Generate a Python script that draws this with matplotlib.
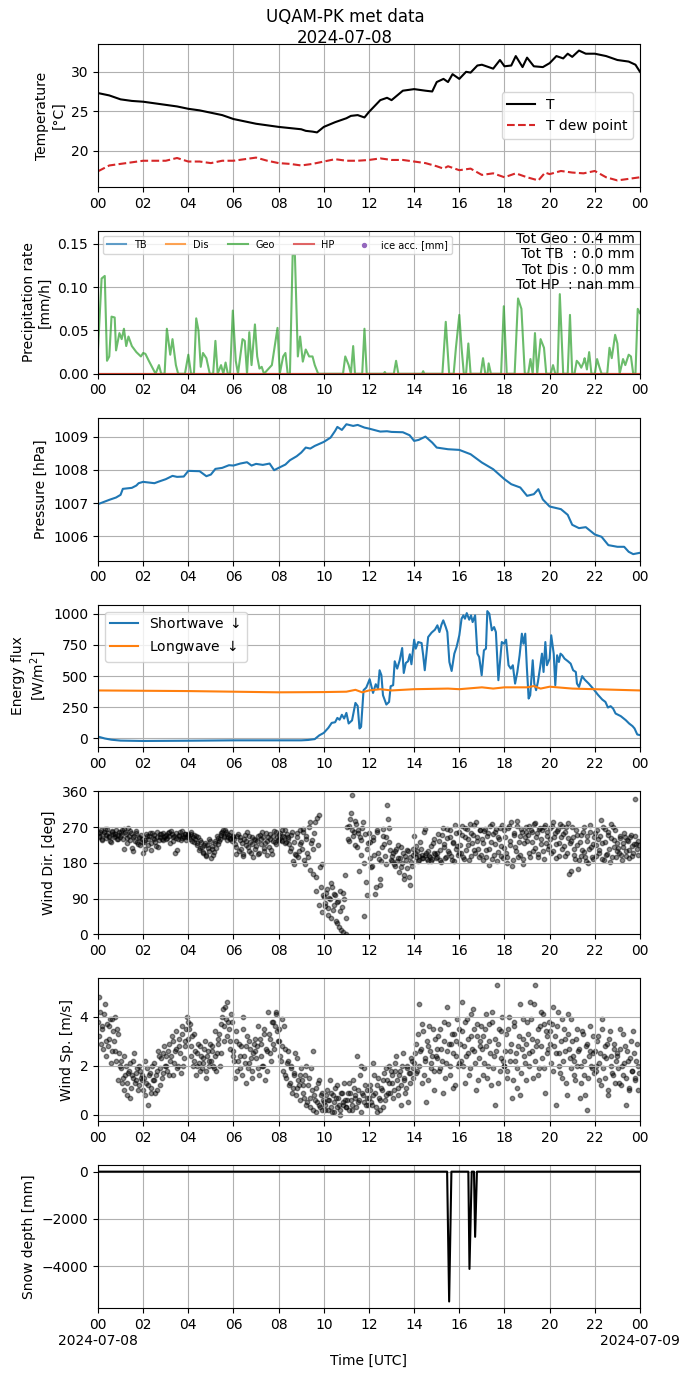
import numpy as np
import pandas as pd
import matplotlib
matplotlib.use('Agg')
import matplotlib.pyplot as plt
import matplotlib.dates as mdates
from matplotlib.ticker import FuncFormatter

day0 = pd.Timestamp('2024-07-08')

# --- temperature (hours, degC)
t_h = [0, 0.5, 1, 1.5, 2, 2.5, 3, 3.5, 4, 4.5, 5, 5.5, 6, 6.5, 7, 7.5, 8, 8.5, 9,
       9.2, 9.5, 9.7, 10, 10.5, 11, 11.2, 11.5, 11.8, 12, 12.5, 12.8, 13, 13.5,
       14, 14.5, 14.8, 15, 15.3, 15.5, 15.7, 16, 16.3, 16.5, 16.8, 17, 17.5, 17.8,
       18, 18.3, 18.5, 18.8, 19, 19.3, 19.7, 20, 20.3, 20.6, 20.8, 21, 21.3, 21.6,
       22, 22.5, 23, 23.5, 23.8, 24]
temp = [27.3, 27.0, 26.5, 26.3, 26.2, 26.0, 25.8, 25.6, 25.3, 25.1, 24.8, 24.5,
        24.0, 23.7, 23.4, 23.2, 23.0, 22.85, 22.7, 22.5, 22.4, 22.3, 23.0, 23.6,
        24.1, 24.4, 24.5, 24.2, 24.9, 26.4, 26.7, 26.4, 27.6, 27.8, 27.6, 27.5,
        28.7, 29.1, 28.7, 29.7, 29.1, 30.0, 29.9, 30.8, 30.9, 30.4, 31.5, 30.7,
        30.8, 32.0, 30.6, 31.8, 30.7, 30.6, 31.1, 32.0, 31.7, 32.3, 31.9, 32.7,
        32.3, 32.3, 32.0, 31.5, 31.3, 30.9, 30.0]
td_h = [0, 0.5, 1, 1.5, 2, 2.5, 3, 3.5, 4, 4.5, 5, 5.5, 6, 6.5, 7, 7.5, 8, 8.5, 9,
        9.5, 10, 10.5, 11, 11.5, 12, 12.5, 13, 13.5, 14, 14.5, 15, 15.3, 15.5, 16,
        16.5, 17, 17.5, 18, 18.5, 19, 19.5, 19.8, 20, 20.5, 21, 21.5, 22, 22.5, 23,
        23.5, 24]
dew = [17.36, 18.1, 18.3, 18.5, 18.7, 18.7, 18.7, 19.05, 18.6, 18.6, 18.4, 18.7,
       18.7, 18.9, 19.1, 18.7, 18.4, 18.3, 18.1, 18.3, 18.6, 18.9, 18.7, 18.7,
       18.8, 19.0, 18.8, 18.8, 18.6, 18.4, 18.0, 17.7, 18.0, 17.5, 17.7, 16.9,
       17.1, 16.6, 17.1, 16.6, 16.2, 17.2, 17.0, 17.4, 17.2, 17.1, 17.4, 16.6,
       16.2, 16.4, 16.6]

# --- precipitation rate, Geonor (mm/h)
geo_h = [0.0, 0.16, 0.3, 0.4, 0.5, 0.6, 0.74, 0.8, 0.95, 1.05, 1.15, 1.25, 1.35,
         1.5, 1.7, 1.9, 2.0, 2.1, 2.25, 2.45, 2.55, 2.7, 2.8, 2.95, 3.05, 3.2, 3.3,
         3.45, 3.55, 3.85, 4.0, 4.12, 4.25, 4.35, 4.45, 4.55, 4.65, 4.8, 4.95, 5.1,
         5.2, 5.3, 5.45, 5.55, 5.65, 5.75, 5.85, 5.97, 6.1, 6.2, 6.4, 6.5, 6.6, 6.7,
         6.8, 6.95, 7.05, 7.15, 7.25, 7.35, 7.7, 7.95, 8.05, 8.2, 8.3, 8.4, 8.5,
         8.62, 8.72, 8.85, 8.95, 9.07, 9.2, 9.35, 9.5, 9.6, 9.75, 10.85, 10.95,
         11.1, 11.2, 11.3, 11.38, 11.7, 11.8, 11.9, 12.65, 12.7, 12.75, 13.1, 13.2,
         13.3, 14.35, 14.4, 14.45, 15.25, 15.4, 15.55, 15.75, 15.85, 16.0, 16.1,
         16.2, 16.3, 16.4, 16.5, 16.95, 17.05, 17.15, 17.25, 17.3, 17.4, 17.85,
         17.97, 18.1, 18.45, 18.6, 18.75, 18.9, 19.05, 19.15, 19.25, 19.35, 19.45,
         19.6, 19.75, 19.85, 20.05, 20.15, 20.25, 20.35, 20.45, 20.6, 20.8, 20.9,
         21.0, 21.1, 21.2, 21.3, 21.4, 21.5, 21.55, 21.65, 21.75, 21.85, 22.0,
         22.1, 22.2, 22.3, 22.55, 22.65, 22.75, 22.9, 23.0, 23.1, 23.25, 23.35,
         23.5, 23.6, 23.7, 23.8, 23.9, 24.0]
geo_rate = [0.028, 0.11, 0.113, 0.015, 0.02, 0.066, 0.065, 0.027, 0.047, 0.04,
            0.052, 0.032, 0.043, 0.032, 0.025, 0.02, 0.024, 0.023, 0.015, 0.005,
            0.0, 0.01, 0.0, 0.0, 0.052, 0.022, 0.04, 0.01, 0.0, 0.0, 0.022, 0.0,
            0.0, 0.064, 0.05, 0.008, 0.024, 0.018, 0.0, 0.0, 0.038, 0.0, 0.01, 0.0,
            0.013, 0.0, 0.0, 0.073, 0.015, 0.0, 0.04, 0.038, 0.0, 0.048, 0.01,
            0.057, 0.02, 0.006, 0.008, 0.0, 0.01, 0.053, 0.0, 0.02, 0.024, 0.0,
            0.0, 0.137, 0.137, 0.02, 0.043, 0.014, 0.028, 0.02, 0.02, 0.01, 0.0,
            0.0, 0.02, 0.01, 0.0, 0.032, 0.0, 0.0, 0.052, 0.0, 0.0, 0.002, 0.0,
            0.0, 0.015, 0.0, 0.0, 0.003, 0.0, 0.0, 0.06, 0.0, 0.0, 0.03, 0.068,
            0.03, 0.0, 0.0, 0.035, 0.0, 0.0, 0.018, 0.0, 0.0, 0.012, 0.0, 0.0,
            0.078, 0.0, 0.0, 0.087, 0.075, 0.0, 0.0, 0.017, 0.0, 0.047, 0.0, 0.04,
            0.03, 0.0, 0.0, 0.01, 0.0, 0.0, 0.092, 0.0, 0.0, 0.068, 0.0, 0.0, 0.015,
            0.012, 0.007, 0.013, 0.018, 0.005, 0.025, 0.0, 0.0, 0.017, 0.008, 0.0,
            0.0, 0.03, 0.018, 0.045, 0.035, 0.0, 0.017, 0.01, 0.022, 0.02, 0.0, 0.0,
            0.075, 0.07]
zero_h = [0, 24]
zero_rate = [0.0, 0.0]
totals = {'Geo': 0.4, 'TB': 0.0, 'Dis': 0.0, 'HP': float('nan')}

# --- pressure (hPa)
p_h = [0, 0.5, 0.8, 1.0, 1.1, 1.5, 1.7, 1.8, 2.0, 2.5, 2.7, 3.0, 3.3, 3.5, 3.8,
       4.0, 4.5, 4.8, 5.0, 5.2, 5.5, 5.8, 6.0, 6.3, 6.6, 6.8, 7.0, 7.3, 7.6, 7.8,
       8.0, 8.3, 8.5, 8.8, 9.0, 9.2, 9.4, 9.6, 10.0, 10.3, 10.5, 10.6, 10.8, 11.0,
       11.3, 11.5, 11.8, 12.0, 12.5, 12.8, 13.0, 13.5, 13.8, 14.0, 14.2, 14.5,
       14.8, 15.0, 15.5, 16.0, 16.5, 17.0, 17.5, 18.0, 18.3, 18.7, 19.0, 19.3,
       19.5, 19.7, 20.0, 20.5, 20.8, 21.0, 21.3, 21.6, 22.0, 22.3, 22.6, 23.0,
       23.3, 23.5, 23.7, 24.0]
pres = [1006.97, 1007.1, 1007.17, 1007.25, 1007.43, 1007.46, 1007.53, 1007.6,
        1007.64, 1007.6, 1007.65, 1007.72, 1007.82, 1007.79, 1007.8, 1007.97,
        1007.96, 1007.81, 1007.86, 1008.03, 1008.06, 1008.14, 1008.13, 1008.19,
        1008.23, 1008.13, 1008.18, 1008.15, 1008.19, 1007.99, 1008.06, 1008.16,
        1008.29, 1008.41, 1008.52, 1008.67, 1008.64, 1008.72, 1008.84, 1008.97,
        1009.17, 1009.29, 1009.2, 1009.37, 1009.32, 1009.35, 1009.27, 1009.24,
        1009.15, 1009.16, 1009.14, 1009.13, 1009.04, 1008.87, 1008.9, 1009.0,
        1008.82, 1008.67, 1008.62, 1008.6, 1008.47, 1008.22, 1008.02, 1007.72,
        1007.57, 1007.47, 1007.22, 1007.27, 1007.42, 1007.11, 1006.9, 1006.82,
        1006.65, 1006.35, 1006.25, 1006.28, 1006.06, 1005.99, 1005.74, 1005.69,
        1005.69, 1005.54, 1005.47, 1005.51]

# --- radiation (W/m2)
sw_h = [0, 0.3, 0.6, 1, 2, 4, 6, 8, 9, 9.3, 9.6, 9.8, 10.0, 10.2, 10.35, 10.5,
        10.6, 10.7, 10.8, 10.9, 11.0, 11.1, 11.25, 11.4, 11.5, 11.58, 11.65,
        11.76, 11.88, 12.03, 12.18, 12.3, 12.4, 12.47, 12.55, 12.62, 12.77, 12.89,
        12.96, 13.07, 13.14, 13.25, 13.36, 13.47, 13.54, 13.63, 13.73, 13.81,
        13.88, 14.0, 14.07, 14.18, 14.33, 14.4, 14.47, 14.62, 14.77, 14.92, 15.03,
        15.12, 15.21, 15.29, 15.4, 15.47, 15.56, 15.66, 15.78, 15.88, 16.0, 16.1,
        16.18, 16.25, 16.33, 16.44, 16.52, 16.59, 16.7, 16.8, 16.88, 16.99, 17.09,
        17.18, 17.24, 17.33, 17.44, 17.54, 17.62, 17.73, 17.88, 17.98, 18.07,
        18.18, 18.28, 18.37, 18.47, 18.57, 18.67, 18.77, 18.84, 18.92, 18.99,
        19.07, 19.14, 19.25, 19.32, 19.4, 19.48, 19.58, 19.66, 19.73, 19.81,
        19.88, 20.0, 20.07, 20.18, 20.25, 20.33, 20.41, 20.48, 20.56, 20.66,
        20.81, 20.93, 21.04, 21.16, 21.21, 21.3, 21.44, 21.55, 21.73, 21.96,
        22.13, 22.33, 22.47, 22.58, 22.7, 22.81, 22.92, 23.15, 23.37, 23.52,
        23.67, 23.76, 23.88, 24.0]
sw_down = [15, 0, -10, -17, -20, -18, -15, -15, -15, -12, -5, 25, 45, 85, 125,
           130, 165, 150, 190, 160, 205, 120, 145, 285, 260, 80, 93, 387, 408, 475,
           365, 435, 400, 547, 507, 347, 272, 293, 419, 427, 619, 560, 627, 725,
           525, 605, 619, 675, 595, 792, 720, 773, 765, 667, 547, 813, 848, 872,
           907, 853, 912, 947, 893, 853, 613, 541, 680, 733, 827, 960, 987, 960,
           1005, 952, 987, 933, 987, 680, 653, 507, 707, 720, 1021, 1000, 867, 893,
           853, 467, 773, 760, 792, 587, 560, 587, 440, 533, 667, 840, 760, 840,
           573, 320, 347, 627, 440, 387, 453, 573, 680, 533, 773, 587, 640, 827,
           680, 427, 667, 613, 680, 667, 640, 619, 600, 547, 533, 440, 413, 500,
           472, 440, 392, 352, 312, 293, 248, 259, 240, 200, 179, 147, 120, 99, 80,
           32, 27]
lw_h = [0, 4, 8, 10, 11, 11.4, 11.7, 12, 12.5, 13, 14, 15.5, 16, 17, 17.5, 18,
        19, 19.3, 19.6, 20, 21, 22, 23, 24]
lw_down = [385, 380, 370, 372, 375, 390, 370, 385, 395, 385, 395, 400, 395, 410,
           400, 410, 410, 420, 400, 415, 400, 395, 390, 385]

# --- wind, one row per hour, two interleaved samplings (every 2 min)
wdir_a = [
    [255, 248, 262, 240, 258, 251, 266, 245, 236, 259, 252, 247, 263, 241, 257],
    [250, 262, 214, 257, 243, 268, 238, 255, 209, 249, 261, 233, 246, 225, 240],
    [205, 238, 252, 226, 247, 213, 255, 241, 233, 258, 219, 246, 252, 237, 244],
    [250, 243, 258, 231, 252, 246, 205, 255, 240, 249, 237, 261, 244, 254, 246],
    [252, 240, 257, 244, 233, 248, 226, 213, 238, 221, 205, 230, 197, 218, 241],
    [193, 222, 208, 236, 247, 228, 241, 255, 262, 248, 257, 238, 251, 243, 235],
    [246, 228, 203, 252, 237, 216, 198, 241, 225, 257, 209, 233, 244, 195, 238],
    [222, 248, 206, 239, 258, 217, 231, 199, 244, 252, 213, 236, 261, 228, 245],
    [241, 256, 236, 249, 262, 233, 246, 228, 218, 257, 178, 203, 244, 195, 262],
    [232, 265, 188, 247, 205, 270, 163, 238, 216, 282, 145, 225, 301, 120, 176],
    [95, 72, 115, 48, 88, 130, 62, 101, 34, 82, 18, 110, 70, 5, 150],
    [0, 240, 272, 305, 352, 258, 285, 220, 263, 246, 200, 283, 45, 131, 215],
    [255, 192, 173, 238, 102, 262, 206, 125, 185, 248, 227, 178, 325, 267, 212],
    [186, 205, 172, 214, 193, 158, 221, 180, 139, 197, 166, 209, 124, 183, 201],
    [248, 195, 210, 188, 232, 201, 192, 265, 206, 186, 198, 223, 191, 240, 203],
    [196, 254, 212, 183, 268, 227, 195, 242, 206, 262, 188, 233, 275, 214, 199],
    [258, 206, 272, 191, 244, 265, 225, 279, 198, 250, 212, 283, 236, 194, 262],
    [241, 187, 266, 212, 255, 175, 232, 278, 201, 258, 184, 245, 269, 222, 193],
    [262, 205, 180, 274, 236, 171, 255, 219, 286, 196, 248, 265, 177, 230, 258],
    [234, 272, 196, 258, 211, 280, 244, 203, 266, 227, 262, 190, 275, 249, 214],
    [268, 205, 282, 246, 193, 261, 230, 278, 215, 254, 198, 270, 243, 152, 236],
    [270, 216, 189, 250, 164, 232, 198, 258, 207, 185, 247, 215, 276, 194, 228],
    [255, 198, 240, 212, 288, 229, 187, 266, 203, 250, 181, 242, 271, 219, 195],
    [230, 205, 249, 188, 221, 244, 198, 236, 212, 251, 197, 228, 340, 215, 235],
]
wdir_b = [
    [246, 259, 238, 252, 265, 243, 256, 249, 232, 261, 245, 254, 239, 250, 244],
    [258, 241, 265, 252, 229, 247, 260, 218, 244, 236, 255, 228, 243, 251, 232],
    [232, 215, 248, 240, 255, 229, 243, 250, 222, 246, 238, 252, 241, 255, 247],
    [241, 255, 247, 260, 236, 249, 243, 212, 251, 257, 242, 247, 253, 238, 250],
    [245, 254, 236, 250, 241, 229, 246, 217, 232, 208, 224, 200, 226, 209, 236],
    [215, 200, 230, 218, 242, 234, 251, 259, 246, 263, 252, 245, 240, 257, 247],
    [239, 221, 249, 210, 245, 230, 202, 250, 234, 219, 248, 204, 227, 241, 214],
    [236, 203, 251, 227, 245, 210, 256, 234, 220, 241, 202, 249, 233, 257, 238],
    [250, 238, 263, 244, 229, 254, 240, 211, 250, 186, 232, 199, 255, 210, 228],
    [214, 257, 176, 240, 196, 283, 230, 152, 255, 110, 292, 74, 170, 55, 98],
    [80, 105, 66, 92, 40, 120, 75, 98, 28, 85, 60, 12, 104, 88, 42],
    [270, 235, 290, 262, 248, 225, 277, 256, 160, 238, 268, 180, 252, 100, 230],
    [232, 170, 245, 200, 118, 259, 190, 140, 221, 265, 198, 245, 290, 232, 188],
    [198, 178, 210, 185, 225, 192, 170, 205, 150, 188, 213, 145, 195, 172, 215],
    [205, 222, 185, 198, 214, 192, 258, 201, 190, 209, 196, 185, 230, 205, 192],
    [205, 236, 188, 250, 220, 193, 265, 210, 245, 198, 230, 186, 256, 222, 204],
    [225, 250, 196, 268, 212, 240, 188, 255, 230, 275, 205, 245, 215, 262, 200],
    [230, 260, 196, 248, 215, 272, 190, 252, 228, 266, 208, 240, 198, 275, 218],
    [245, 195, 268, 225, 282, 188, 250, 210, 272, 232, 200, 258, 190, 245, 270],
    [250, 205, 262, 232, 278, 218, 256, 196, 268, 240, 210, 270, 230, 258, 222],
    [240, 272, 210, 255, 228, 266, 198, 245, 274, 222, 258, 205, 280, 230, 160],
    [245, 200, 262, 225, 188, 250, 212, 270, 196, 236, 180, 258, 220, 190, 246],
    [225, 262, 205, 248, 190, 270, 232, 200, 258, 215, 278, 195, 238, 262, 210],
    [218, 242, 200, 230, 255, 210, 238, 192, 245, 222, 205, 248, 228, 200, 225],
]
wspd_a = [
    [3.8, 4.8, 2.9, 3.5, 4.1, 2.4, 3.7, 3.1, 3.9, 2.6, 3.4, 4.0, 2.2, 3.3, 2.5],
    [1.9, 1.3, 2.4, 1.6, 0.8, 1.7, 2.1, 1.1, 1.5, 2.5, 1.4, 1.9, 1.2, 1.8, 1.6],
    [1.0, 2.2, 1.3, 0.4, 1.6, 1.1, 2.0, 1.4, 0.9, 1.8, 2.6, 1.2, 2.3, 1.7, 2.8],
    [2.4, 1.8, 2.9, 2.2, 3.2, 1.6, 2.6, 3.4, 2.0, 2.8, 1.7, 3.6, 2.3, 3.0, 4.0],
    [3.1, 3.7, 2.4, 2.0, 3.3, 1.6, 2.5, 2.1, 2.8, 1.9, 2.3, 3.0, 1.5, 2.6, 2.0],
    [2.2, 2.8, 1.9, 3.4, 2.5, 3.1, 2.0, 3.7, 4.3, 3.0, 3.9, 4.6, 3.5, 2.7, 3.8],
    [2.6, 1.5, 3.0, 2.2, 1.9, 2.8, 4.0, 2.4, 1.3, 3.2, 2.1, 2.7, 1.8, 2.5, 3.1],
    [2.3, 3.6, 1.6, 2.9, 2.0, 3.3, 1.4, 2.6, 4.2, 3.1, 2.2, 3.8, 2.7, 4.1, 3.4],
    [3.0, 2.4, 3.9, 1.8, 2.7, 1.5, 2.2, 1.2, 2.0, 0.9, 1.6, 2.5, 1.1, 1.4, 0.6],
    [1.9, 1.2, 0.7, 2.0, 0.5, 1.5, 0.3, 1.0, 2.6, 0.6, 0.1, 1.3, 0.4, 0.8, 0.2],
    [0.5, 0.2, 1.0, 0.6, 1.4, 0.3, 0.8, 0.1, 0.7, 1.2, 0.4, 0.0, 0.9, 0.5, 0.6],
    [0.3, 0.9, 1.3, 0.6, 0.2, 1.1, 0.7, 2.4, 0.5, 1.6, 0.1, 0.8, 1.9, 0.4, 1.0],
    [0.7, 1.2, 0.4, 2.1, 0.9, 0.1, 1.5, 0.6, 1.1, 0.3, 1.7, 0.8, 1.4, 2.0, 0.9],
    [1.3, 0.7, 1.8, 2.4, 1.1, 1.6, 0.4, 2.0, 1.4, 0.9, 1.9, 0.5, 1.7, 2.3, 1.5],
    [2.1, 2.9, 1.8, 4.5, 2.6, 1.3, 3.4, 2.2, 0.5, 2.8, 3.6, 1.9, 2.4, 1.0, 3.1],
    [2.3, 3.2, 1.9, 2.7, 0.9, 3.8, 2.1, 4.4, 2.9, 1.6, 3.3, 2.5, 1.2, 3.0, 2.0],
    [3.5, 2.2, 4.6, 2.8, 1.3, 3.9, 2.5, 1.9, 3.2, 4.3, 2.6, 1.0, 3.7, 2.3, 3.0],
    [2.7, 1.6, 3.5, 4.1, 2.0, 3.0, 1.2, 3.8, 2.4, 0.4, 5.3, 2.9, 1.8, 3.4, 2.2],
    [2.0, 3.3, 1.5, 4.0, 2.6, 0.7, 3.6, 2.2, 1.1, 2.8, 4.5, 1.7, 3.1, 2.4, 1.4],
    [3.8, 2.5, 4.6, 3.1, 1.5, 5.3, 2.8, 3.5, 1.9, 4.2, 2.3, 3.7, 0.9, 3.2, 2.7],
    [3.4, 2.1, 4.4, 2.8, 0.4, 3.6, 2.5, 1.7, 3.9, 2.2, 3.1, 1.3, 4.1, 2.7, 1.9],
    [3.0, 2.2, 1.4, 3.5, 2.6, 0.7, 2.0, 3.3, 1.6, 2.8, 0.2, 2.4, 3.6, 1.9, 2.5],
    [2.6, 1.8, 3.2, 2.1, 1.2, 3.9, 2.4, 1.5, 2.9, 0.8, 3.4, 2.0, 1.6, 2.7, 2.2],
    [2.4, 1.3, 3.5, 2.0, 1.6, 2.8, 0.4, 2.2, 1.0, 3.0, 1.8, 2.5, 1.4, 2.9, 2.0],
]
wspd_b = [
    [3.2, 4.2, 3.6, 2.7, 4.5, 3.0, 2.8, 3.6, 2.1, 3.9, 3.0, 2.6, 3.5, 1.4, 2.0],
    [2.2, 1.5, 1.0, 2.0, 1.3, 1.8, 0.7, 1.6, 2.2, 1.3, 1.7, 1.0, 2.0, 1.5, 1.4],
    [1.5, 0.8, 1.9, 1.2, 1.7, 0.9, 1.4, 2.1, 1.6, 1.0, 2.4, 1.9, 1.5, 2.5, 2.0],
    [2.0, 2.6, 1.6, 2.4, 3.0, 2.1, 2.7, 1.9, 3.1, 2.5, 3.3, 2.0, 2.8, 3.5, 3.8],
    [3.5, 2.8, 3.2, 2.2, 2.6, 2.0, 2.9, 1.8, 2.4, 2.1, 2.7, 1.8, 2.4, 2.2, 2.9],
    [2.6, 2.0, 2.4, 1.8, 2.9, 3.3, 2.5, 4.0, 3.6, 4.4, 3.2, 3.8, 3.0, 4.1, 2.4],
    [2.2, 3.4, 1.8, 2.9, 2.4, 1.6, 3.5, 2.1, 2.8, 1.9, 3.0, 2.3, 1.5, 2.9, 2.6],
    [2.8, 1.9, 3.1, 2.4, 2.0, 3.5, 2.7, 1.8, 3.3, 2.5, 3.8, 2.9, 3.6, 4.2, 3.0],
    [3.5, 2.2, 2.8, 3.6, 1.6, 2.1, 2.6, 1.3, 1.9, 1.1, 1.7, 0.8, 2.3, 1.2, 1.6],
    [1.4, 0.9, 1.6, 0.4, 1.2, 0.7, 1.9, 0.2, 0.8, 1.1, 0.5, 1.4, 0.3, 0.9, 0.6],
    [0.4, 0.8, 0.2, 0.6, 0.9, 0.1, 0.5, 1.1, 0.3, 0.7, 0.2, 0.9, 0.4, 1.3, 0.3],
    [0.6, 0.2, 0.9, 0.4, 1.4, 0.8, 0.3, 1.0, 0.6, 2.0, 0.9, 0.5, 1.2, 0.7, 0.4],
    [1.0, 0.5, 0.8, 1.6, 0.3, 1.2, 0.7, 0.2, 1.0, 1.4, 0.6, 1.9, 0.9, 1.3, 1.8],
    [1.6, 1.0, 2.1, 1.4, 0.8, 1.8, 1.2, 2.5, 1.5, 1.1, 2.0, 1.7, 1.3, 2.2, 1.9],
    [2.5, 1.7, 3.3, 2.0, 2.7, 3.7, 1.6, 2.3, 3.0, 1.4, 2.6, 2.1, 3.5, 1.8, 2.4],
    [2.7, 1.8, 3.5, 2.2, 3.0, 1.5, 2.6, 3.7, 2.0, 2.9, 1.1, 3.3, 2.4, 3.9, 2.1],
    [2.9, 3.4, 2.0, 3.8, 2.4, 3.1, 1.6, 4.1, 2.7, 3.5, 2.1, 3.2, 1.4, 2.8, 3.6],
    [3.2, 2.1, 2.8, 1.5, 3.7, 2.5, 4.2, 1.9, 3.1, 2.6, 1.3, 3.5, 2.3, 4.0, 2.0],
    [2.6, 1.8, 3.5, 2.2, 2.9, 1.4, 3.8, 2.5, 1.9, 3.2, 0.8, 2.7, 3.9, 2.1, 2.9],
    [3.3, 2.0, 3.9, 2.6, 4.5, 2.2, 3.0, 1.6, 3.6, 2.8, 4.1, 1.9, 3.4, 2.5, 3.8],
    [2.9, 3.7, 1.8, 3.2, 2.5, 4.2, 2.0, 3.0, 1.5, 3.5, 2.6, 0.8, 3.3, 2.3, 3.9],
    [2.4, 1.6, 3.1, 2.0, 2.7, 1.3, 3.4, 2.2, 0.8, 2.9, 1.5, 2.6, 2.0, 3.2, 1.7],
    [2.0, 3.0, 1.4, 2.5, 3.5, 1.9, 2.8, 2.3, 1.0, 3.1, 2.4, 1.7, 2.9, 1.3, 2.5],
    [1.9, 2.7, 1.2, 3.3, 2.1, 1.5, 2.6, 1.1, 2.3, 1.8, 3.4, 1.5, 2.2, 1.0, 1.7],
]

# --- snow depth (mm)
sd_h = [0, 15.46, 15.55, 15.65, 16.4, 16.45, 16.55, 16.65, 16.7, 16.78, 24]
snow = [0, 0, -5500, 0, 0, -4120, 0, 0, -2760, 0, 0]


def to_time(hours):
    return day0 + pd.to_timedelta(np.asarray(hours, dtype=float), unit='h')


# sample times: minutes 0,4,8,... for set a and 2,6,10,... for set b
hrs = np.arange(24)[:, None]
wind_h = np.concatenate([(hrs + np.arange(15)[None, :] / 15.0).ravel(),
                         (hrs + (np.arange(15)[None, :] + 0.5) / 15.0).ravel()])
wind_dir = np.concatenate([np.ravel(wdir_a), np.ravel(wdir_b)])
wind_spd = np.concatenate([np.ravel(wspd_a), np.ravel(wspd_b)])

fig, axs = plt.subplots(7, 1, figsize=(6.9, 13.77), dpi=100)
fig.subplots_adjust(left=0.142, right=0.9275, top=0.968, bottom=0.0501,
                    hspace=0.308)
fig.suptitle('UQAM-PK met data\n2024-07-08', y=0.994, fontsize=12)

# temperature
ax = axs[0]
ax.plot(to_time(t_h), temp, color='k', lw=1.5, label='T')
ax.plot(to_time(td_h), dew, color='tab:red', ls='--', lw=1.5, label='T dew point')
ax.set_ylabel('Temperature\n[°C]')
ax.legend(loc='center right')

# precipitation
ax = axs[1]
ax.plot(to_time(zero_h), zero_rate, color='tab:blue', alpha=0.7, label='TB')
ax.plot(to_time(zero_h), zero_rate, color='tab:orange', alpha=0.7, label='Dis')
ax.plot(to_time(geo_h), geo_rate, color='tab:green', alpha=0.7, label='Geo')
ax.plot(to_time(zero_h), zero_rate, color='tab:red', alpha=0.7, label='HP')
ax.scatter([], [], color='tab:purple', s=8, label='ice acc. [mm]')
ax.set_ylim(0, 0.165)
ax.set_ylabel('Precipitation rate\n[mm/h]')
ax.legend(loc='upper left', ncol=5, fontsize=7)
txt = 'Tot Geo : %.1f mm\nTot TB  : %.1f mm\nTot Dis : %.1f mm\nTot HP  : %.1f mm' % (
    totals['Geo'], totals['TB'], totals['Dis'], totals['HP'])
ax.text(0.99, 0.99, txt, transform=ax.transAxes, ha='right', va='top',
        fontsize=10, linespacing=1.1)

# pressure
ax = axs[2]
ax.plot(to_time(p_h), pres, color='tab:blue', lw=1.5)
ax.set_ylabel('Pressure [hPa]')

# radiation
ax = axs[3]
ax.plot(to_time(sw_h), sw_down, color='tab:blue', lw=1.5, label='Shortwave $\\downarrow$')
ax.plot(to_time(lw_h), lw_down, color='tab:orange', lw=1.5, label='Longwave $\\downarrow$')
ax.set_ylabel('Energy flux\n[W/m$^2$]')
ax.set_yticks([0, 250, 500, 750, 1000])
ax.legend(loc='upper left')

# wind direction
ax = axs[4]
ax.scatter(to_time(wind_h), wind_dir, color='k', s=10, alpha=0.45)
ax.set_ylim(0, 360)
ax.set_yticks([0, 90, 180, 270, 360])
ax.set_ylabel('Wind Dir. [deg]')

# wind speed
ax = axs[5]
ax.scatter(to_time(wind_h), wind_spd, color='k', s=10, alpha=0.45)
ax.set_ylabel('Wind Sp. [m/s]')

# snow depth
ax = axs[6]
ax.plot(to_time(sd_h), snow, color='k', lw=1.5)
ax.set_ylabel('Snow depth [mm]')
ax.set_xlabel('Time [UTC]')


def hour_fmt(x, pos=None):
    d = mdates.num2date(x)
    s = d.strftime('%H')
    if d.hour == 0 and d.minute == 0:
        s += '\n' + d.strftime('%Y-%m-%d')
    return s


for i, ax in enumerate(axs):
    ax.set_xlim(day0, day0 + pd.Timedelta(days=1))
    ax.xaxis.set_major_locator(mdates.HourLocator(byhour=range(0, 24, 2)))
    if i == len(axs) - 1:
        ax.xaxis.set_major_formatter(FuncFormatter(hour_fmt))
    else:
        ax.xaxis.set_major_formatter(mdates.DateFormatter('%H'))
    ax.grid(True)

fig.savefig('out.png', dpi=100)
